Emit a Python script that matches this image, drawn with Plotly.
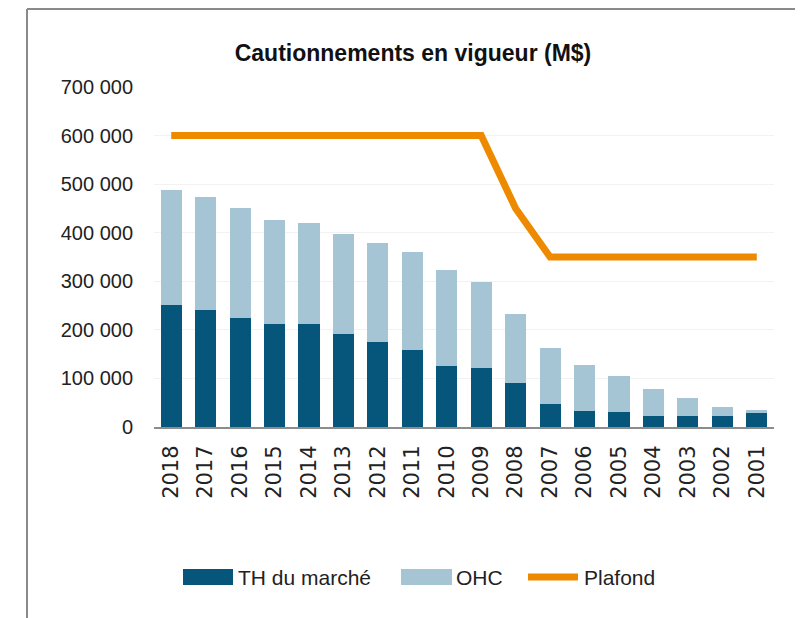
import plotly.graph_objects as go

years = ["2018", "2017", "2016", "2015", "2014", "2013", "2012", "2011", "2010",
         "2009", "2008", "2007", "2006", "2005", "2004", "2003", "2002", "2001"]
th_marche = [251000, 241000, 225000, 212000, 212000, 191000, 174000, 158000, 126000,
             121000, 90000, 47000, 33000, 30000, 23000, 23000, 23000, 28000]
total = [488000, 474000, 450000, 426000, 420000, 397000, 379000, 361000, 323000,
         299000, 232000, 163000, 128000, 105000, 78000, 59000, 42000, 34000]
ohc = [t - d for t, d in zip(total, th_marche)]
plafond = [600000, 600000, 600000, 600000, 600000, 600000, 600000, 600000, 600000,
           600000, 450000, 350000, 350000, 350000, 350000, 350000, 350000, 350000]
y_tickvals = [0, 100000, 200000, 300000, 400000, 500000, 600000, 700000]
y_ticktext = ["0", "100 000", "200 000", "300 000", "400 000", "500 000", "600 000", "700 000"]

series_names = ["TH du marché", "OHC", "Plafond"]
DARK = "#05567A"
LIGHT = "#A5C5D4"
ORANGE = "#EE8A00"
SANS = "Liberation Sans, Arial, sans-serif"

fig = go.Figure()
fig.add_trace(go.Bar(x=years, y=th_marche, name=series_names[0], marker_color=DARK,
                     marker_line_width=0, showlegend=False))
fig.add_trace(go.Bar(x=years, y=ohc, name=series_names[1], marker_color=LIGHT,
                     marker_line_width=0, showlegend=False))
fig.add_trace(go.Scatter(x=years, y=plafond, name=series_names[2], mode="lines",
                         line=dict(color=ORANGE, width=7), showlegend=False))

# page has an 8px body margin; plot area in page pixels:
OFF = 8
L, R, T, B = 154, 774, 87, 427
W, H = R - L, B - T
FW, FH = 803 - OFF, 618 - OFF


def px(x):
    return (x - L) / W


def py(y):
    return (B - y) / H


shapes = []
frame_col = "#8A8A8A"
shapes.append(dict(type="line", xref="paper", yref="paper", x0=px(27), x1=px(27), y0=py(9), y1=py(640),
                   line=dict(color=frame_col, width=2)))
shapes.append(dict(type="line", xref="paper", yref="paper", x0=px(27), x1=px(802), y0=py(9), y1=py(9),
                   line=dict(color=frame_col, width=2)))
shapes.append(dict(type="line", xref="paper", yref="paper", x0=px(801.5), x1=px(801.5), y0=py(9), y1=py(640),
                   line=dict(color=frame_col, width=2)))

# custom legend
shapes.append(dict(type="rect", xref="paper", yref="paper", x0=px(183), x1=px(233), y0=py(569), y1=py(585),
                   fillcolor=DARK, line_width=0))
shapes.append(dict(type="rect", xref="paper", yref="paper", x0=px(401), x1=px(452), y0=py(569), y1=py(585),
                   fillcolor=LIGHT, line_width=0))
shapes.append(dict(type="line", xref="paper", yref="paper", x0=px(528), x1=px(578), y0=py(577), y1=py(577),
                   line=dict(color=ORANGE, width=7)))

annotations = []
for name, xpos in zip(series_names, [236, 454, 582]):
    annotations.append(dict(text=name, xref="paper", yref="paper", x=px(xpos), y=py(577),
                            xanchor="left", yanchor="middle", showarrow=False,
                            font=dict(family=SANS, size=21, color="#222222")))

fig.update_layout(
    width=FW, height=FH,
    margin=dict(l=L - OFF, r=803 - R, t=T - OFF, b=618 - B),
    paper_bgcolor="white", plot_bgcolor="white",
    barmode="stack", bargap=0.39,
    title=dict(text="<b>Cautionnements en vigueur (M$)</b>", x=(413 - OFF) / FW, xanchor="center",
               y=1 - (53 - OFF) / FH, yanchor="middle",
               font=dict(family=SANS, size=23, color="#111111")),
    shapes=shapes, annotations=annotations,
    showlegend=False,
)
fig.update_yaxes(range=[0, 700000], tickvals=y_tickvals, ticktext=y_ticktext,
                 showgrid=True, gridcolor="#F2F2F2", gridwidth=1, zeroline=False,
                 showline=False, ticks="", ticklabelstandoff=20,
                 tickfont=dict(family=SANS, size=20, color="#222222"))
fig.update_xaxes(showline=True, linecolor="#8C8C8C", linewidth=2, ticks="",
                 tickangle=-90, ticklabelstandoff=8,
                 tickfont=dict(family="DejaVu Sans, Verdana, sans-serif", size=21, color="#222222"))

fig.write_html("out.html")
